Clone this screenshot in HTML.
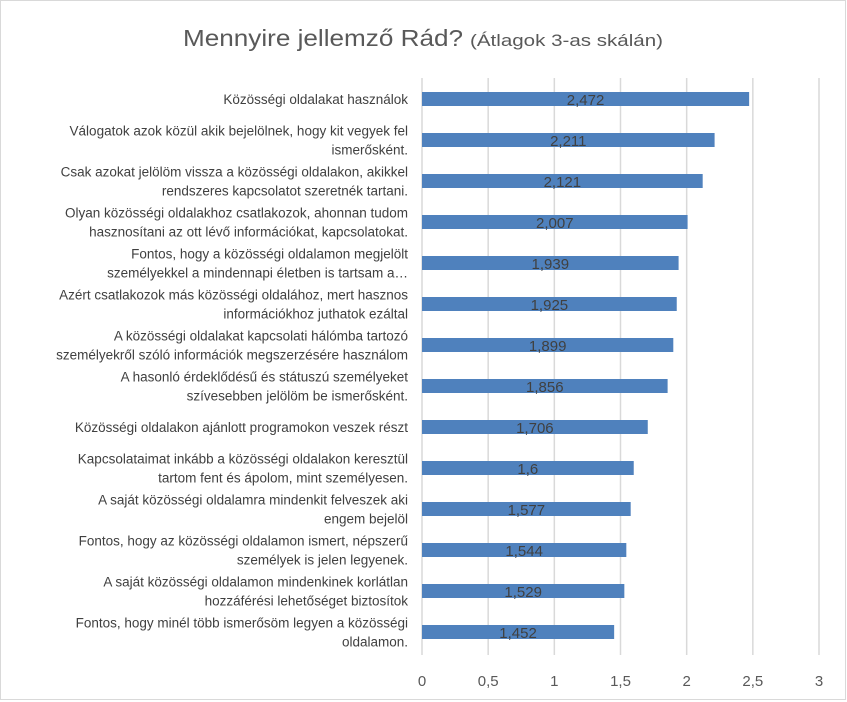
<!DOCTYPE html>
<html><head><meta charset="utf-8">
<style>
html,body{margin:0;padding:0;background:#fff;}
svg{display:block;font-family:"Liberation Sans",sans-serif;}
</style></head>
<body>
<svg id="chart" width="847" height="702" viewBox="0 0 847 702">
<rect x="0.5" y="0.5" width="845" height="699" fill="#fff" stroke="#d9d9d9"/>
<text y="46" fill="#595959"><tspan x="183" font-size="23" textLength="280" lengthAdjust="spacingAndGlyphs">Mennyire jellemző Rád?</tspan><tspan x="470" font-size="17" textLength="193" lengthAdjust="spacingAndGlyphs">(Átlagok 3-as skálán)</tspan></text>
<g id="grid"></g>
<g id="bars"></g>
<g id="labels"></g>
<g id="ticks"></g>
</svg>
<script>
const categories = [
 ["Közösségi oldalakat használok"],
 ["Válogatok azok közül akik bejelölnek, hogy kit vegyek fel","ismerősként."],
 ["Csak azokat jelölöm vissza a közösségi oldalakon, akikkel","rendszeres kapcsolatot szeretnék tartani."],
 ["Olyan közösségi oldalakhoz csatlakozok, ahonnan tudom","hasznosítani az ott lévő információkat, kapcsolatokat."],
 ["Fontos, hogy a közösségi oldalamon megjelölt","személyekkel a mindennapi életben is tartsam a…"],
 ["Azért csatlakozok más közösségi oldalához, mert hasznos","információkhoz juthatok ezáltal"],
 ["A közösségi oldalakat kapcsolati hálómba tartozó","személyekről szóló információk megszerzésére használom"],
 ["A hasonló érdeklődésű és státuszú személyeket","szívesebben jelölöm be ismerősként."],
 ["Közösségi oldalakon ajánlott programokon veszek részt"],
 ["Kapcsolataimat inkább a közösségi oldalakon keresztül","tartom fent és ápolom, mint személyesen."],
 ["A saját közösségi oldalamra mindenkit felveszek aki","engem bejelöl"],
 ["Fontos, hogy az közösségi oldalamon ismert, népszerű","személyek is jelen legyenek."],
 ["A saját közösségi oldalamon mindenkinek korlátlan","hozzáférési lehetőséget biztosítok"],
 ["Fontos, hogy minél több ismerősöm legyen a közösségi","oldalamon."]
];
const values = [2.472,2.211,2.121,2.007,1.939,1.925,1.899,1.856,1.706,1.6,1.577,1.544,1.529,1.452];
const valueLabels = ["2,472","2,211","2,121","2,007","1,939","1,925","1,899","1,856","1,706","1,6","1,577","1,544","1,529","1,452"];
const tickValues = [0,0.5,1,1.5,2,2.5,3];
const tickLabels = ["0","0,5","1","1,5","2","2,5","3"];

const X0=422, X1=819, VMAX=3;
const xs = v => X0 + v/VMAX*(X1-X0);
const TOP=78, BOT=655, n=categories.length;
const yc = i => 99 + i*(632-99)/(n-1);
const NS="http://www.w3.org/2000/svg";
const mk=(t,a,p)=>{const e=document.createElementNS(NS,t);for(const k in a)e.setAttribute(k,a[k]);p.appendChild(e);return e;};
const grid=document.getElementById('grid'),bars=document.getElementById('bars'),labels=document.getElementById('labels'),ticks=document.getElementById('ticks');
tickValues.forEach((t,i)=>{
 const l=mk('line',{x1:xs(t),x2:xs(t),y1:TOP,y2:BOT,stroke:'#d9d9d9','stroke-width':1.5},grid);
 
 
 const tx=mk('text',{x:xs(t),y:686,'text-anchor':'middle','font-size':15,fill:'#595959'},ticks);
 tx.textContent=tickLabels[i];
 
 
});
values.forEach((v,i)=>{
 const c=yc(i);
 const r=mk('rect',{x:X0,y:c-7,width:xs(v)-X0,height:14,fill:'#4f81bd'},bars);
 
 
 const vl=mk('text',{x:(X0+xs(v))/2,y:c+6,'text-anchor':'middle','font-size':15,fill:'#404040'},bars);
 vl.textContent=valueLabels[i];
 
 
 const lines=categories[i];
 const lt=mk('text',{'text-anchor':'end','font-size':13.5,fill:'#404040'},labels);
 
 
 lines.forEach((s,j)=>{
  const ts=mk('tspan',{x:408,y:c+5+(j-(lines.length-1)/2)*19},lt);
  ts.textContent=s;
 });
});
</script>
</body></html>
